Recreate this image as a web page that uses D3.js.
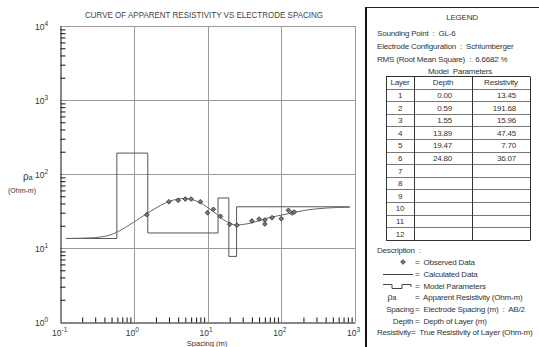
<!DOCTYPE html>
<html>
<head>
<meta charset="utf-8">
<script src="https://cdn.jsdelivr.net/npm/d3@7"></script>
<style>
  body { margin: 0; background: #fff; }
  text { font-family: "Liberation Sans", Arial, sans-serif; fill: #333; white-space: pre; }
</style>
</head>
<body>
<div id="chart"></div>
<script>
// Observed field data (AB/2 spacing in m, apparent resistivity in Ohm-m)
const obsSpacing = [1.5, 3, 4, 5, 6, 8, 10, 12, 15, 20, 25, 40, 50, 60, 60, 75, 100, 125, 140, 150];
const obsRho     = [28.2, 42.2, 44.1, 45.9, 45.9, 42.2, 30.0, 33.3, 26.8, 20.9, 20.3, 23.2, 24.6, 23.9, 21.1, 25.7, 24.9, 32.3, 29.7, 30.6];

// Calculated curve
const calcSpacing = [0.12, 0.26, 0.48, 0.8, 1.45, 2.3, 3.2, 4.95, 7.9, 12.0, 18.2, 24.1, 37.7, 63.5, 119, 221, 413, 850];
const calcRho     = [13.45, 13.7, 15.0, 19.4, 28.5, 37.5, 43.5, 46.8, 40.9, 31.0, 22.7, 20.5, 21.6, 25.2, 28.8, 32.6, 34.7, 35.6];

// Model parameters
const layers       = [1, 2, 3, 4, 5, 6, 7, 8, 9, 10, 11, 12];
const depths       = ["0.00", "0.59", "1.55", "13.89", "19.47", "24.80"];
const resistivity  = ["13.45", "191.68", "15.96", "47.45", "7.70", "36.07"];
const modelRange   = [0.12, 850];

const xDecades = [-1, 0, 1, 2, 3];
const yDecades = [0, 1, 2, 3, 4];

const W = 539, H = 347;
const svg = d3.select('#chart').append('svg')
    .attr('width', W).attr('height', H)
    .style('background', '#fff');

const x = d3.scaleLog().domain([0.1, 1000]).range([60, 355]);
const y = d3.scaleLog().domain([1, 10000]).range([322, 26]);

// minor tick values 2..9 per decade
const minorX = [], minorY = [];
xDecades.slice(0, -1).forEach(e => { for (let k = 2; k <= 9; k++) minorX.push(k * Math.pow(10, e)); });
yDecades.slice(0, -1).forEach(e => { for (let k = 2; k <= 9; k++) minorY.push(k * Math.pow(10, e)); });

// Grid lines at decades
const grid = svg.append('g').attr('stroke', '#9a9a9a').attr('stroke-width', 1);
xDecades.slice(1).forEach(e => {
    const px = Math.round(x(Math.pow(10, e))) + 0.5;
    grid.append('line').attr('x1', px).attr('x2', px).attr('y1', y(10000)).attr('y2', y(1));
});
yDecades.slice(1).forEach(e => {
    const py = Math.round(y(Math.pow(10, e))) + 0.5;
    grid.append('line').attr('x1', x(0.1)).attr('x2', x(1000)).attr('y1', py).attr('y2', py);
});

// Axes with minor ticks
const xAxis = svg.append('g')
    .attr('transform', `translate(0,${Math.round(y(1)) + 0.5})`)
    .call(d3.axisBottom(x).tickValues(minorX).tickSize(-5).tickSizeOuter(0).tickFormat(''));
const yAxis = svg.append('g')
    .attr('transform', `translate(${Math.round(x(0.1)) + 0.5},0)`)
    .call(d3.axisLeft(y).tickValues(minorY).tickSize(-5).tickSizeOuter(0).tickFormat(''));
[xAxis, yAxis].forEach(a => {
    a.select('.domain').attr('stroke', '#111');
    a.selectAll('.tick line').attr('stroke', '#111');
});

// Tick labels
yDecades.forEach(e => {
    const t = svg.append('text')
        .attr('x', 48).attr('y', y(Math.pow(10, e)) + 4)
        .attr('text-anchor', 'end')
        .style('font-size', '8.5px');
    t.append('tspan').text('10');
    t.append('tspan').attr('dy', -4).style('font-size', '6.5px').text(e);
});
xDecades.forEach(e => {
    const t = svg.append('text')
        .attr('x', x(Math.pow(10, e)) - 8).attr('y', 336)
        .style('font-size', '8.5px');
    t.append('tspan').text('10');
    t.append('tspan').attr('dy', -4).style('font-size', '6.5px').text(e);
});

svg.append('text')
    .attr('x', 207).attr('y', 346)
    .attr('text-anchor', 'middle')
    .style('font-size', '7.5px')
    .text('Spacing (m)');

const yl = svg.append('text').attr('x', 23).attr('y', 180).style('font-size', '10px');
yl.append('tspan').text('ρ');
yl.append('tspan').style('font-size', '7px').text('a');
svg.append('text')
    .attr('x', 22).attr('y', 193)
    .attr('text-anchor', 'middle')
    .style('font-size', '7px')
    .text('(Ohm-m)');

// Title
svg.append('text')
    .attr('x', 85).attr('y', 18)
    .attr('textLength', 238)
    .attr('lengthAdjust', 'spacingAndGlyphs')
    .style('font-size', '8.5px')
    .style('fill', '#444')
    .text('CURVE OF APPARENT RESISTIVITY VS ELECTRODE SPACING');

// Model step line
const bounds = depths.map(Number);
const rhos = resistivity.map(Number);
const steps = [[modelRange[0], rhos[0]]];
for (let i = 1; i < bounds.length; i++) {
    steps.push([bounds[i], rhos[i - 1]]);
    steps.push([bounds[i], rhos[i]]);
}
steps.push([modelRange[1], rhos[rhos.length - 1]]);

svg.append('path')
    .datum(steps)
    .attr('fill', 'none')
    .attr('stroke', '#555')
    .attr('stroke-width', 1)
    .attr('d', d3.line().x(d => x(d[0])).y(d => y(d[1])));

// Calculated curve
svg.append('path')
    .datum(calcSpacing.map((s, i) => [s, calcRho[i]]))
    .attr('fill', 'none')
    .attr('stroke', '#666')
    .attr('stroke-width', 1)
    .attr('d', d3.line().x(d => x(d[0])).y(d => y(d[1])).curve(d3.curveMonotoneX));

// Observed data
const marker = d3.symbol().type(d3.symbolSquare).size(11);
svg.append('g').selectAll('path')
    .data(obsSpacing.map((s, i) => [s, obsRho[i]]))
    .enter().append('path')
    .attr('d', marker)
    .attr('transform', d => `translate(${x(d[0])},${y(d[1])}) rotate(45)`)
    .attr('fill', '#777')
    .attr('stroke', '#333')
    .attr('stroke-width', 0.8);

// ---- Legend panel ----
const lg = svg.append('g');
lg.append('line').attr('x1', 366).attr('x2', 366).attr('y1', 7).attr('y2', H)
    .attr('stroke', '#111').attr('stroke-width', 2);
lg.append('line').attr('x1', 365).attr('x2', W).attr('y1', 7.5).attr('y2', 7.5)
    .attr('stroke', '#222').attr('stroke-width', 1);

const txt = (xx, yy, s, anchor) => lg.append('text')
    .attr('x', xx).attr('y', yy)
    .attr('text-anchor', anchor || 'start')
    .attr('xml:space', 'preserve')
    .style('font-size', '8px')
    .style('letter-spacing', '-0.2px')
    .text(s);

txt(462, 20, 'LEGEND', 'middle');
txt(377, 36, 'Sounding Point  :  GL-6');
txt(377, 49, 'Electrode Configuration  :  Schlumberger');
txt(377, 62, 'RMS (Root Mean Square)  :  6.6682 %');
txt(460, 74, 'Model  Parameters', 'middle');

// Table
const tLeft = 386, c1 = 414, c2 = 472, tRight = 530, tTop = 76, rowH = 12.6;
const tBottom = tTop + rowH * (layers.length + 1);
const tbl = lg.append('g');
for (let r = 0; r <= layers.length + 1; r++) {
    const yy = Math.round(tTop + r * rowH) + 0.5;
    tbl.append('line').attr('x1', tLeft).attr('x2', tRight).attr('y1', yy).attr('y2', yy)
        .attr('stroke', r === 0 || r === layers.length + 1 ? '#333' : '#777');
}
[tLeft, c1, c2, tRight].forEach(cx => {
    tbl.append('line').attr('x1', cx + 0.5).attr('x2', cx + 0.5)
        .attr('y1', Math.round(tTop) + 0.5).attr('y2', Math.round(tBottom) + 0.5)
        .attr('stroke', '#333');
});
const rowY = r => tTop + (r + 0.5) * rowH + 3;
txt((tLeft + c1) / 2, rowY(0), 'Layer', 'middle');
txt((c1 + c2) / 2, rowY(0), 'Depth', 'middle');
txt((c2 + tRight) / 2, rowY(0), 'Resistivity', 'middle');
layers.forEach((l, i) => {
    txt((tLeft + c1) / 2, rowY(i + 1), l, 'middle');
    if (i < depths.length) {
        txt(c2 - 20, rowY(i + 1), depths[i], 'end');
        txt(tRight - 14, rowY(i + 1), resistivity[i], 'end');
    }
});

// Description
txt(377, 253, 'Description  :');
lg.append('path').attr('d', marker)
    .attr('transform', 'translate(403,262) rotate(45)')
    .attr('fill', '#777').attr('stroke', '#333').attr('stroke-width', 0.8);
txt(415, 265, '=  Observed Data');
lg.append('line').attr('x1', 383).attr('x2', 413).attr('y1', 274.5).attr('y2', 274.5)
    .attr('stroke', '#444');
txt(415, 277, '=  Calculated Data');
lg.append('path')
    .attr('d', 'M383,284.5 H392 V288.5 H402 V284.5 H411 V287')
    .attr('fill', 'none').attr('stroke', '#444');
txt(415, 289, '=  Model Parameters');
const rl = lg.append('text').attr('x', 392).attr('y', 300).attr('text-anchor', 'middle').style('font-size', '9px');
rl.append('tspan').text('ρ');
rl.append('tspan').style('font-size', '7px').text('a');
txt(415, 300, '=  Apparent Resistivity (Ohm-m)');
txt(400, 312, 'Spacing', 'middle');
txt(415, 312, '=  Electrode Spacing (m)  :  AB/2');
txt(403, 324, 'Depth', 'middle');
txt(415, 324, '=  Depth of Layer (m)');
txt(377, 335, 'Resistivity');
txt(411, 335, '=  True Resistivity of Layer (Ohm-m)');
</script>
</body>
</html>
